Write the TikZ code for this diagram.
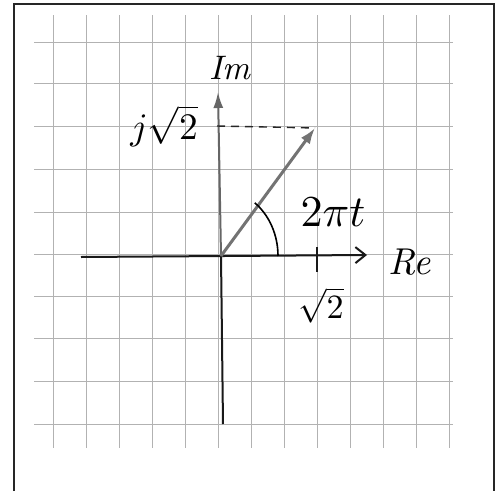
\documentclass[tikz,border=0pt]{standalone}
\usetikzlibrary{arrows.meta,calc}
\begin{document}
\begin{tikzpicture}[x=1pt,y=-1pt,
  gridline/.style={black!30, line width=0.8pt},
  axisline/.style={black!90, line width=2pt},
  phasor/.style={black!55, line width=3pt, -{Latex[length=16pt,width=11pt]}},
  lbl/.style={inner sep=0pt, scale=3.4}]
\useasboundingbox (0,0) rectangle (499,491);
\fill[white] (0,0) rectangle (499,491);
\draw[line width=1.5pt, black!85] (14,491) -- (14,4) -- (494,4) -- (494,491);
% grid
\foreach \x in {53,86,119,152,185,218,251,284,317,350,383,416,449}
  \draw[gridline] (\x,15) -- (\x,448);
\foreach \y in {42,83,126,169,212,254,296,338,381,424}
  \draw[gridline] (34,\y) -- (453,\y);
% key points
\coordinate (O) at (221,256);
\coordinate (xl) at (81,257);
\coordinate (xr) at (367,255);
\coordinate (yb) at (223,424);
\coordinate (yt) at (218,92);
\coordinate (T) at (315,128);
\coordinate (Ty) at (217,126);
\coordinate (tk1) at (317,247);
\coordinate (tk2) at (317,272);
\coordinate (A0) at (278,256);
% axes
\draw[axisline, -{Straight Barb[length=10pt,width=16pt,line width=2pt]}] (xl) -- (xr);
\draw[axisline] (yb) -- (O);
\draw[black!60, line width=2pt, -{Latex[length=16pt,width=10pt]}] (O) -- (yt);
\draw[axisline] (tk1) -- (tk2);
% dashed projection
\draw[black!85, line width=1.4pt, dash pattern=on 8pt off 6pt] (Ty) -- (T);
% phasor
\draw[phasor] (O) -- (T);
% angle arc
\draw[black, line width=1.6pt] (A0) arc[start angle=0, end angle=-53.7, x radius=57, y radius=66];
% labels
\node[lbl] (im) at (230,68) {\textit{Im}};
\node[lbl, scale=1.1] (jr) at (164,126) {$j\sqrt{2}$};
\node[lbl, scale=1.3] (wt) at (333,212) {$2\pi t$};
\node[lbl, scale=1.1] (re) at (410,262) {\textit{Re}};
\node[lbl] (r2) at (321,305) {$\sqrt{2}$};
\end{tikzpicture}
\end{document}
